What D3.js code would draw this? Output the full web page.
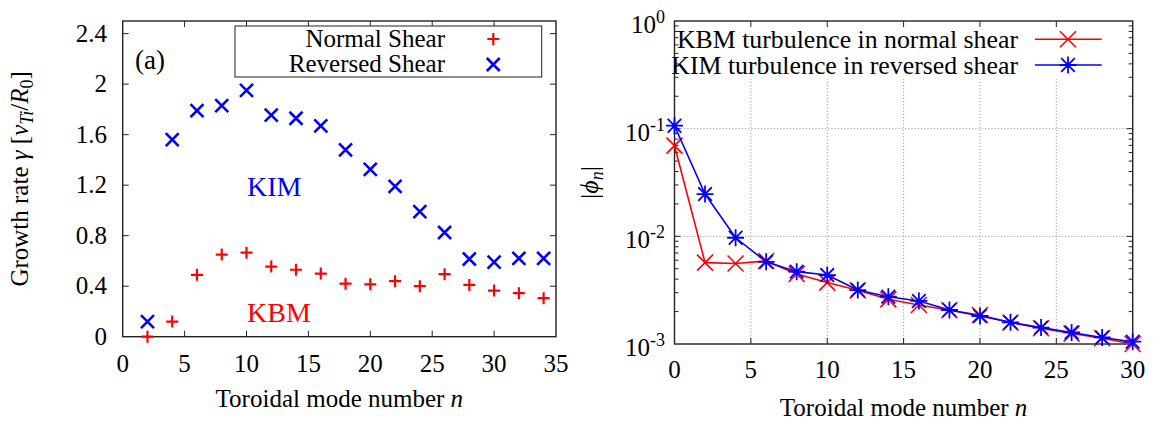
<!DOCTYPE html>
<html lang="en">
<head>
  <meta charset="UTF-8">
  <title>Growth rate and mode spectrum</title>
  <script src="https://d3js.org/d3.v7.min.js"></script>
  <style>
    body, html { margin: 0; padding: 0; background: #fff; overflow: hidden; }
    svg { display: block; font-family: "Liberation Serif", "DejaVu Serif", serif; }
    .grid { stroke: #999; stroke-width: 1; stroke-dasharray: 1.2 2; }
  </style>
</head>
<body>
  <svg id="chart" width="1154" height="423"></svg>

  <script>
    // ---- data ----
    // panel (a): linear growth rate vs toroidal mode number
    const nGrowth = [2, 4, 6, 8, 10, 12, 14, 16, 18, 20, 22, 24, 26, 28, 30, 32, 34];
    const gammaNormal = [0.0, 0.12, 0.49, 0.65, 0.665, 0.555, 0.53, 0.50, 0.42, 0.415, 0.44, 0.40, 0.495, 0.41, 0.365, 0.345, 0.305];
    const gammaReversed = [0.12, 1.56, 1.79, 1.83, 1.95, 1.755, 1.73, 1.67, 1.48, 1.325, 1.19, 0.99, 0.825, 0.615, 0.59, 0.62, 0.62];
    const growthTicksX = [0, 5, 10, 15, 20, 25, 30, 35];
    const growthTicksY = [0, 0.4, 0.8, 1.2, 1.6, 2, 2.4];

    // panel (b): saturated |phi_n| spectrum
    const nSpectrum = [0, 2, 4, 6, 8, 10, 12, 14, 16, 18, 20, 22, 24, 26, 28, 30];
    const phiKBM = [0.0695, 0.0057, 0.0056, 0.0059, 0.00447, 0.00372, 0.00315, 0.0026, 0.0023, 0.00206, 0.00186, 0.00158, 0.0014, 0.00125, 0.00113, 0.001];
    const phiKIM = [0.1065, 0.0247, 0.0097, 0.0058, 0.0047, 0.00437, 0.00317, 0.00275, 0.00251, 0.00207, 0.00182, 0.00159, 0.00142, 0.00128, 0.00115, 0.00105];
    const spectrumTicksX = [0, 5, 10, 15, 20, 25, 30];
    const spectrumDecades = [-3, -2, -1, 0];

    const RED = '#ff0000';
    const BLUE = '#0000ff';

    const svg = d3.select('#chart');

    // marker path helpers
    const plusPath = s => `M${-s},0H${s}M0,${-s}V${s}`;
    const crossPath = s => `M${-s},${-s}L${s},${s}M${-s},${s}L${s},${-s}`;
    const starPath = s => plusPath(s) + crossPath(s * 0.8);

    function drawMarkers(g, xs, ys, x, y, path, color, width) {
      g.selectAll(null)
        .data(xs.map((n, i) => [n, ys[i]]))
        .enter().append('path')
        .attr('transform', d => `translate(${x(d[0])},${y(d[1])})`)
        .attr('d', path)
        .attr('fill', 'none')
        .attr('stroke', color)
        .attr('stroke-width', width);
    }

    // ================= left panel =================
    const L = { left: 122.7, right: 556, top: 21, bottom: 336.7 };
    const xL = d3.scaleLinear().domain([0, 35]).range([L.left, L.right]);
    const yL = d3.scaleLinear().domain([0, 2.5]).range([L.bottom, L.top]);
    const gL = svg.append('g');

    // ticks (inward, mirrored)
    const tickLen = 6;
    gL.selectAll(null).data(growthTicksX.slice(1, -1)).enter().append('path')
      .attr('d', d => `M${xL(d)},${L.bottom}v${-tickLen}M${xL(d)},${L.top}v${tickLen}`)
      .attr('stroke', '#222').attr('stroke-width', 1);
    gL.selectAll(null).data(growthTicksY.slice(1)).enter().append('path')
      .attr('d', d => `M${L.left},${yL(d)}h${tickLen}M${L.right},${yL(d)}h${-tickLen}`)
      .attr('stroke', '#222').attr('stroke-width', 1);

    gL.selectAll(null).data(growthTicksX).enter().append('text')
      .attr('x', d => xL(d)).attr('y', 372)
      .attr('text-anchor', 'middle').attr('font-size', 25)
      .text(d => d);
    gL.selectAll(null).data(growthTicksY).enter().append('text')
      .attr('x', 107).attr('y', d => yL(d) + 8)
      .attr('text-anchor', 'end').attr('font-size', 25)
      .text(d => d);

    gL.append('rect')
      .attr('x', L.left).attr('y', L.top)
      .attr('width', L.right - L.left).attr('height', L.bottom - L.top)
      .attr('fill', 'none').attr('stroke', '#222').attr('stroke-width', 1.4);

    // legend box
    gL.append('rect').attr('x', 235).attr('y', 26).attr('width', 306.7).attr('height', 51)
      .attr('fill', '#fff').attr('stroke', '#222').attr('stroke-width', 1);
    gL.append('text').attr('x', 445).attr('y', 47).attr('text-anchor', 'end')
      .attr('font-size', 25).text('Normal Shear');
    gL.append('text').attr('x', 445).attr('y', 72).attr('text-anchor', 'end')
      .attr('font-size', 25).text('Reversed Shear');
    gL.append('path').attr('transform', 'translate(493.3,39)').attr('d', plusPath(6))
      .attr('stroke', RED).attr('stroke-width', 2.2);
    gL.append('path').attr('transform', 'translate(493.3,64.5)').attr('d', crossPath(6.5))
      .attr('stroke', BLUE).attr('stroke-width', 2.6);

    gL.append('text').attr('x', 135).attr('y', 69).attr('font-size', 27).text('(a)');
    gL.append('text').attr('x', 247).attr('y', 196).attr('font-size', 28)
      .attr('fill', BLUE).text('KIM');
    gL.append('text').attr('x', 247).attr('y', 322).attr('font-size', 28)
      .attr('fill', RED).text('KBM');

    drawMarkers(gL, nGrowth, gammaNormal, xL, yL, plusPath(6), RED, 2.2);
    drawMarkers(gL, nGrowth, gammaReversed, xL, yL, crossPath(6.5), BLUE, 2.6);

    // axis titles
    const xtL = gL.append('text').attr('x', (L.left + L.right) / 2).attr('y', 407)
      .attr('text-anchor', 'middle').attr('font-size', 25);
    xtL.append('tspan').text('Toroidal mode number ');
    xtL.append('tspan').attr('font-style', 'italic').text('n');

    const ytL = gL.append('text')
      .attr('transform', `translate(28,${(L.top + L.bottom) / 2}) rotate(-90)`)
      .attr('text-anchor', 'middle').attr('font-size', 25);
    ytL.append('tspan').text('Growth rate ');
    ytL.append('tspan').attr('font-style', 'italic').text('γ');
    ytL.append('tspan').text(' [');
    ytL.append('tspan').attr('font-style', 'italic').text('v');
    ytL.append('tspan').attr('font-style', 'italic').attr('font-size', 18).attr('dy', 5).text('Ti');
    ytL.append('tspan').attr('dy', -5).text('/');
    ytL.append('tspan').attr('font-style', 'italic').text('R');
    ytL.append('tspan').attr('font-size', 18).attr('dy', 5).text('0');
    ytL.append('tspan').attr('dy', -5).text(']');

    // ================= right panel =================
    const R = { left: 674.5, right: 1132.7, top: 21, bottom: 344 };
    const xR = d3.scaleLinear().domain([0, 30]).range([R.left, R.right]);
    const yR = d3.scaleLog().domain([1e-3, 1]).range([R.bottom, R.top]);
    const gR = svg.append('g');

    // dotted grid
    gR.selectAll(null).data(spectrumTicksX.slice(1, -1)).enter().append('line')
      .attr('class', 'grid')
      .attr('x1', d => xR(d)).attr('x2', d => xR(d))
      .attr('y1', R.top).attr('y2', R.bottom);
    gR.selectAll(null).data(spectrumDecades.slice(1, -1)).enter().append('line')
      .attr('class', 'grid')
      .attr('x1', R.left).attr('x2', R.right)
      .attr('y1', d => yR(Math.pow(10, d))).attr('y2', d => yR(Math.pow(10, d)));

    // white key area hides the grid under the legend
    gR.append('rect').attr('x', R.left + 1).attr('y', R.top + 1)
      .attr('width', R.right - R.left - 2).attr('height', 57).attr('fill', '#fff');

    // ticks
    gR.selectAll(null).data(spectrumTicksX.slice(1, -1)).enter().append('path')
      .attr('d', d => `M${xR(d)},${R.bottom}v${-tickLen}M${xR(d)},${R.top}v${tickLen}`)
      .attr('stroke', '#222').attr('stroke-width', 1);
    const minor = [];
    spectrumDecades.slice(0, -1).forEach(e => {
      for (let k = 2; k <= 9; k++) minor.push(k * Math.pow(10, e));
    });
    gR.selectAll(null).data(minor).enter().append('path')
      .attr('d', d => `M${R.left},${yR(d)}h4M${R.right},${yR(d)}h-4`)
      .attr('stroke', '#222').attr('stroke-width', 1);
    gR.selectAll(null).data(spectrumDecades.slice(1, -1)).enter().append('path')
      .attr('d', d => `M${R.left},${yR(Math.pow(10, d))}h${tickLen}M${R.right},${yR(Math.pow(10, d))}h${-tickLen}`)
      .attr('stroke', '#222').attr('stroke-width', 1);

    gR.selectAll(null).data(spectrumTicksX).enter().append('text')
      .attr('x', d => xR(d)).attr('y', 378)
      .attr('text-anchor', 'middle').attr('font-size', 25)
      .text(d => d);
    const yLab = gR.selectAll(null).data(spectrumDecades).enter().append('text')
      .attr('x', 665).attr('y', d => yR(Math.pow(10, d)) + 12)
      .attr('text-anchor', 'end').attr('font-size', 25);
    yLab.append('tspan').text('10');
    yLab.append('tspan').attr('font-size', 18).attr('dy', -10).text(d => d === 0 ? '0' : '-' + Math.abs(d));

    gR.append('rect')
      .attr('x', R.left).attr('y', R.top)
      .attr('width', R.right - R.left).attr('height', R.bottom - R.top)
      .attr('fill', 'none').attr('stroke', '#222').attr('stroke-width', 1.4);

    // lines + markers
    const line = d3.line().x(d => xR(d[0])).y(d => yR(d[1]));
    gR.append('path').datum(nSpectrum.map((n, i) => [n, phiKBM[i]]))
      .attr('d', line).attr('fill', 'none').attr('stroke', RED).attr('stroke-width', 1.6);
    drawMarkers(gR, nSpectrum, phiKBM, xR, yR, crossPath(8), RED, 1.6);
    gR.append('path').datum(nSpectrum.map((n, i) => [n, phiKIM[i]]))
      .attr('d', line).attr('fill', 'none').attr('stroke', BLUE).attr('stroke-width', 1.6);
    drawMarkers(gR, nSpectrum, phiKIM, xR, yR, starPath(8.5), BLUE, 1.8);

    // legend
    gR.append('text').attr('x', 1018).attr('y', 48).attr('text-anchor', 'end')
      .attr('font-size', 25.8).text('KBM turbulence in normal shear');
    gR.append('text').attr('x', 1018).attr('y', 74).attr('text-anchor', 'end')
      .attr('font-size', 25.8).text('KIM turbulence in reversed shear');
    gR.append('path').attr('d', 'M1035,39.3H1101.7').attr('stroke', RED).attr('stroke-width', 1.6);
    gR.append('path').attr('transform', 'translate(1068,39.3)').attr('d', crossPath(8))
      .attr('fill', 'none').attr('stroke', RED).attr('stroke-width', 1.6);
    gR.append('path').attr('d', 'M1035,65H1101.7').attr('stroke', BLUE).attr('stroke-width', 1.6);
    gR.append('path').attr('transform', 'translate(1068,65)').attr('d', starPath(8.5))
      .attr('fill', 'none').attr('stroke', BLUE).attr('stroke-width', 1.8);

    // axis titles
    const xtR = gR.append('text').attr('x', (R.left + R.right) / 2).attr('y', 416)
      .attr('text-anchor', 'middle').attr('font-size', 25);
    xtR.append('tspan').text('Toroidal mode number ');
    xtR.append('tspan').attr('font-style', 'italic').text('n');

    const ytR = gR.append('text')
      .attr('transform', `translate(598,${(R.top + R.bottom) / 2}) rotate(-90)`)
      .attr('text-anchor', 'middle').attr('font-size', 26);
    ytR.append('tspan').text('|');
    ytR.append('tspan').attr('font-style', 'italic').text('ϕ');
    ytR.append('tspan').attr('font-style', 'italic').attr('font-size', 18).attr('dy', 5).text('n');
    ytR.append('tspan').attr('dy', -5).text('|');
  </script>
</body>
</html>
